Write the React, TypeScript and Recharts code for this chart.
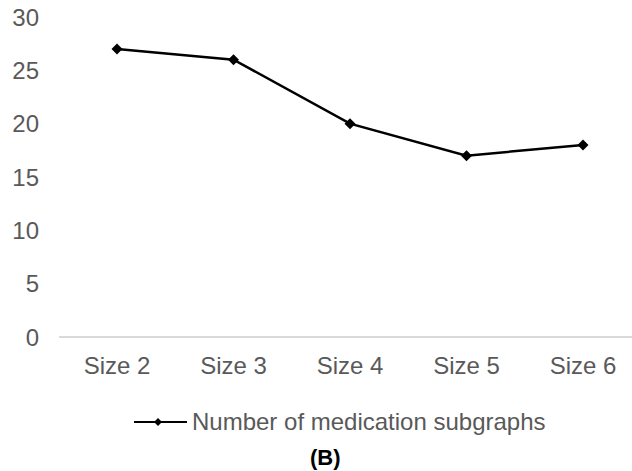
import { LineChart, Line, XAxis, YAxis, Legend } from "recharts";

const categories = ["Size 2", "Size 3", "Size 4", "Size 5", "Size 6"];
const subgraphCounts = [27, 26, 20, 17, 18];
const yTicks = [0, 5, 10, 15, 20, 25, 30];
const seriesName = "Number of medication subgraphs";

const data = categories.map((c, i) => ({ size: c, count: subgraphCounts[i] }));

const FONT = '"Liberation Sans", Arial, Helvetica, sans-serif';
const GREY = "#595959";

function Diamond(props: any) {
  const { cx, cy } = props;
  if (cx == null || cy == null) return null;
  const r = 5.5;
  return (
    <polygon
      points={`${cx},${cy - r} ${cx + r},${cy} ${cx},${cy + r} ${cx - r},${cy}`}
      fill="#000"
    />
  );
}

function LegendContent() {
  return (
    <div style={{ display: "flex", alignItems: "center", height: 34, marginLeft: 134 }}>
      <svg width={58} height={12} style={{ display: "block" }}>
        <line x1={0} y1={6} x2={53} y2={6} stroke="#000" strokeWidth={2} />
        <polygon points="24,2 28,6 24,10 20,6" fill="#000" />
      </svg>
      <span style={{ fontFamily: FONT, fontSize: 24, color: GREY }}>{seriesName}</span>
    </div>
  );
}

export default function App() {
  return (
    <div
      style={{
        position: "fixed",
        left: 0,
        top: 0,
        width: 632,
        height: 471,
        overflow: "hidden",
        background: "#fff",
      }}
    >
      <LineChart width={645} height={471} data={data} margin={{ top: 17, right: 4, left: 0, bottom: 0 }}>
        <XAxis
          dataKey="size"
          height={134}
          padding={{ left: 58, right: 58 }}
          axisLine={{ stroke: "#d9d9d9", strokeWidth: 2 }}
          tickLine={false}
          tickSize={0}
          tickMargin={20}
          tick={{ fontSize: 24, fill: GREY, fontFamily: FONT }}
        />
        <YAxis
          width={59}
          domain={[0, 30]}
          ticks={yTicks}
          axisLine={false}
          tickLine={false}
          tickSize={0}
          tickMargin={20}
          tick={{ fontSize: 24, fill: GREY, fontFamily: FONT }}
        />
        <Legend
          layout="horizontal"
          verticalAlign="middle"
          wrapperStyle={{ top: 405, left: 0, width: 632 }}
          content={() => <LegendContent />}
        />
        <Line
          type="linear"
          dataKey="count"
          name={seriesName}
          stroke="#000"
          strokeWidth={2.5}
          dot={<Diamond />}
          activeDot={false}
          isAnimationActive={false}
        />
      </LineChart>
      <div
        style={{
          position: "absolute",
          left: 310,
          top: 447,
          fontFamily: FONT,
          fontWeight: "bold",
          fontSize: 22,
          lineHeight: "22px",
          color: "#000",
        }}
      >
        (B)
      </div>
    </div>
  );
}
